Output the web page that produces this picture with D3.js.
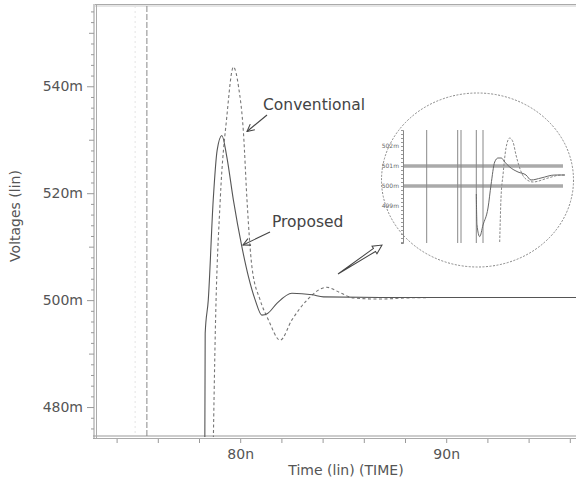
<!DOCTYPE html>
<html>
<head>
<meta charset="utf-8">
<script src="https://cdn.jsdelivr.net/npm/d3@7"></script>
<style>
  body { margin: 0; background: #fff; }
  svg { display: block; font-family: "DejaVu Sans", sans-serif; }
</style>
</head>
<body>
<div class="chart"></div>
<script>
// main plot data: time in ns, voltage in mV
var proposedT = [78.28, 78.30, 78.45, 78.69, 78.88, 79.11, 79.35, 79.67, 80.08, 80.40, 80.73, 81.05, 81.33, 81.78, 82.51, 83.5, 84.04, 86.8, 96.5];
var proposedV = [470, 493.8, 500, 518.7, 528.0, 530.8, 526.8, 518.7, 510.0, 504.4, 500.0, 497.2, 497.5, 499.4, 501.3, 501.0, 500.6, 500.5, 500.5];

var conventionalT = [78.68, 78.79, 79.03, 79.35, 79.67, 79.92, 80.16, 80.33, 80.57, 80.97, 81.37, 81.94, 82.51, 83.24, 84.2, 84.9, 85.5, 86.8, 88, 89.7];
var conventionalV = [470, 493.8, 518.7, 534.3, 543.6, 539.9, 531.2, 518.7, 506.2, 500, 496.3, 492.5, 496.3, 500, 502.4, 501.3, 500.4, 500.2, 500.4, 500.5];

var xTicks = [74, 76, 78, 80, 82, 84, 86, 88, 90, 92, 94, 96];
var xLabels = {80: "80n", 90: "90n"};
var yLabels = {480: "480m", 500: "500m", 520: "520m", 540: "540m"};
var markerTimes = [74.9, 75.47];   // vertical cursor lines

// inset (zoomed view) data: arbitrary time units, voltage in mV
var insetSolidT = [7.33, 7.4, 7.67, 8.0, 8.5, 8.8, 9.17, 9.5, 9.83, 10.17, 10.67, 11.5, 12.3, 12.8, 13.8, 15.17, 16.2];
var insetSolidV = [499.6, 498.05, 497.47, 498.05, 498.9, 500.05, 501.2, 501.4, 501.4, 501.2, 500.95, 500.7, 500.55, 500.3, 500.4, 500.55, 500.55];
var insetDashT = [9.67, 9.8, 10.0, 10.3, 10.67, 11.0, 11.3, 11.67, 12.17, 13.0, 14.5, 15.8, 16.3];
var insetDashV = [497.2, 499.4, 500.55, 501.9, 502.4, 502.2, 501.55, 500.9, 500.4, 500.2, 500.4, 500.55, 500.55];
var insetCursors = [2.37, 5.47, 5.8, 7.33, 8.0];
var insetBands = [500, 501];
var insetLabels = {499: "499m", 500: "500m", 501: "501m", 502: "502m"};

var W = 576, H = 481;
var svg = d3.select(".chart").append("svg").attr("width", W).attr("height", H);

var x = d3.scaleLinear().domain([73, 96.5]).range([96, 96 + 23.5 * 20.6]);
var y = d3.scaleLinear().domain([474.4, 555.2]).range([437, 5]);

svg.append("clipPath").attr("id", "plot")
  .append("rect").attr("x", 97).attr("y", 5).attr("width", W - 97).attr("height", 432);

// frame
svg.append("line").attr("x1", 95).attr("x2", W).attr("y1", 4.5).attr("y2", 4.5).attr("stroke", "#aaa");
svg.append("line").attr("x1", 95).attr("x2", W).attr("y1", 6).attr("y2", 6).attr("stroke", "#ccc");
svg.append("line").attr("x1", 93).attr("x2", W).attr("y1", 436).attr("y2", 436).attr("stroke", "#999");
svg.append("line").attr("x1", 93).attr("x2", W).attr("y1", 438.5).attr("y2", 438.5).attr("stroke", "#aaa");
svg.append("line").attr("x1", 94).attr("x2", 94).attr("y1", 4).attr("y2", 439).attr("stroke", "#999");
svg.append("line").attr("x1", 96.5).attr("x2", 96.5).attr("y1", 4).attr("y2", 439).attr("stroke", "#aaa");

// x axis
var xAxis = svg.append("g").attr("transform", "translate(0,439)")
  .call(d3.axisBottom(x).tickValues(xTicks).tickSize(4).tickPadding(6)
    .tickFormat(function(d) { return xLabels[d] || ""; }));
xAxis.select(".domain").remove();
xAxis.selectAll("line").attr("stroke", "#999");
xAxis.selectAll("text").attr("font-size", 14).attr("fill", "#555")
  .attr("font-family", "DejaVu Sans, sans-serif");

// y axis
var yAxis = svg.append("g").attr("transform", "translate(94,0)")
  .call(d3.axisLeft(y).tickValues(d3.range(476, 555, 2)).tickSize(4).tickPadding(8)
    .tickFormat(function(d) { return yLabels[d] || ""; }));
yAxis.select(".domain").remove();
yAxis.selectAll("line").attr("stroke", "#999")
  .attr("x2", function(d) { return d % 20 == 0 ? -7 : (d % 10 == 0 ? -5 : -3); });
yAxis.selectAll("text").attr("font-size", 14).attr("fill", "#555")
  .attr("font-family", "DejaVu Sans, sans-serif").attr("x", -11);

// axis titles
svg.append("text").attr("x", 346).attr("y", 475).attr("text-anchor", "middle")
  .attr("font-size", 14).attr("fill", "#555").text("Time (lin) (TIME)");
svg.append("text").attr("transform", "translate(20,216) rotate(-90)").attr("text-anchor", "middle")
  .attr("font-size", 14).attr("fill", "#555").text("Voltages (lin)");

// cursor lines
svg.selectAll(".cursor").data(markerTimes).enter().append("line")
  .attr("x1", function(d) { return x(d); }).attr("x2", function(d) { return x(d); })
  .attr("y1", 6).attr("y2", 436)
  .attr("stroke", function(d, i) { return i == 0 ? "#e4e4e4" : "#888"; })
  .attr("stroke-dasharray", function(d, i) { return i == 0 ? "2,3" : "6,2"; });

var line = d3.line().x(function(d) { return x(d[0]); }).y(function(d) { return y(d[1]); })
  .curve(d3.curveMonotoneX);

var proposed = d3.zip(proposedT, proposedV);
var conventional = d3.zip(conventionalT, conventionalV);

var curves = svg.append("g").attr("clip-path", "url(#plot)");
curves.append("path").datum(conventional).attr("d", line)
  .attr("fill", "none").attr("stroke", "#777").attr("stroke-width", 1.1).attr("stroke-dasharray", "3,2.5");
curves.append("path").datum(proposed).attr("d", line)
  .attr("fill", "none").attr("stroke", "#555").attr("stroke-width", 1.1);

// annotations
var defs = svg.append("defs");
defs.append("marker").attr("id", "head").attr("viewBox", "0 0 10 10").attr("refX", 9).attr("refY", 5)
  .attr("markerWidth", 9).attr("markerHeight", 9).attr("orient", "auto").attr("markerUnits", "userSpaceOnUse")
  .append("path").attr("d", "M1,1 L9,5 L1,9").attr("fill", "none").attr("stroke", "#444").attr("stroke-width", 1.2);

svg.append("text").attr("x", 263).attr("y", 110).attr("font-size", 15.5).attr("fill", "#444").text("Conventional");
svg.append("line").attr("x1", 267).attr("y1", 115).attr("x2", 247).attr("y2", 131.5)
  .attr("stroke", "#444").attr("stroke-width", 1.1).attr("marker-end", "url(#head)");

svg.append("text").attr("x", 272).attr("y", 227).attr("font-size", 15.5).attr("fill", "#444").text("Proposed");
svg.append("line").attr("x1", 270).attr("y1", 232).attr("x2", 243).attr("y2", 245)
  .attr("stroke", "#444").attr("stroke-width", 1.1).attr("marker-end", "url(#head)");

// hollow arrow pointing to inset
(function() {
  var x1 = 338, y1 = 274, x2 = 382, y2 = 245;
  var L = Math.hypot(x2 - x1, y2 - y1), a = Math.atan2(y2 - y1, x2 - x1) * 180 / Math.PI;
  svg.append("path")
    .attr("d", "M0,0 L" + (L - 9) + ",-1.8 L" + (L - 9) + ",-4.5 L" + L + ",0 L" + (L - 9) + ",4.5 L" + (L - 9) + ",1.8 Z")
    .attr("transform", "translate(" + x1 + "," + y1 + ") rotate(" + a + ")")
    .attr("fill", "#fff").attr("stroke", "#444").attr("stroke-width", 1);
})();

// inset
svg.append("ellipse").attr("cx", 477.5).attr("cy", 180).attr("rx", 96).attr("ry", 87)
  .attr("fill", "#fff").attr("stroke", "#888").attr("stroke-dasharray", "2,1.5");

var ix = d3.scaleLinear().domain([0, 16]).range([403, 563]);
var iy = d3.scaleLinear().domain([497.15, 502.8]).range([243, 130]);

svg.selectAll(".band").data(insetBands).enter().append("line")
  .attr("x1", ix(0)).attr("x2", ix(16)).attr("y1", function(d) { return iy(d); }).attr("y2", function(d) { return iy(d); })
  .attr("stroke", "#aaa").attr("stroke-width", 3.5);

svg.selectAll(".icursor").data(insetCursors).enter().append("line")
  .attr("x1", function(d) { return ix(d); }).attr("x2", function(d) { return ix(d); })
  .attr("y1", iy(502.8)).attr("y2", iy(497.15)).attr("stroke", "#888").attr("stroke-width", 1);

var iAxis = svg.append("g").attr("transform", "translate(" + ix(0) + ",0)")
  .call(d3.axisLeft(iy).tickValues(d3.range(497.2, 502.8, 0.2).map(function(v) { return Math.round(v * 10) / 10; }))
    .tickSize(2).tickPadding(2).tickFormat(function(d) { return insetLabels[d] || ""; }));
iAxis.select(".domain").attr("stroke", "#888");
iAxis.selectAll("line").attr("stroke", "#999");
iAxis.selectAll("text").attr("font-size", 6).attr("fill", "#666").attr("font-family", "DejaVu Sans, sans-serif");

var iline = d3.line().x(function(d) { return ix(d[0]); }).y(function(d) { return iy(d[1]); }).curve(d3.curveMonotoneX);
svg.append("path").datum(d3.zip(insetDashT, insetDashV)).attr("d", iline)
  .attr("fill", "none").attr("stroke", "#888").attr("stroke-width", 1).attr("stroke-dasharray", "2.5,1.5");
svg.append("path").datum(d3.zip(insetSolidT, insetSolidV)).attr("d", iline)
  .attr("fill", "none").attr("stroke", "#666").attr("stroke-width", 1);
</script>
</body>
</html>
